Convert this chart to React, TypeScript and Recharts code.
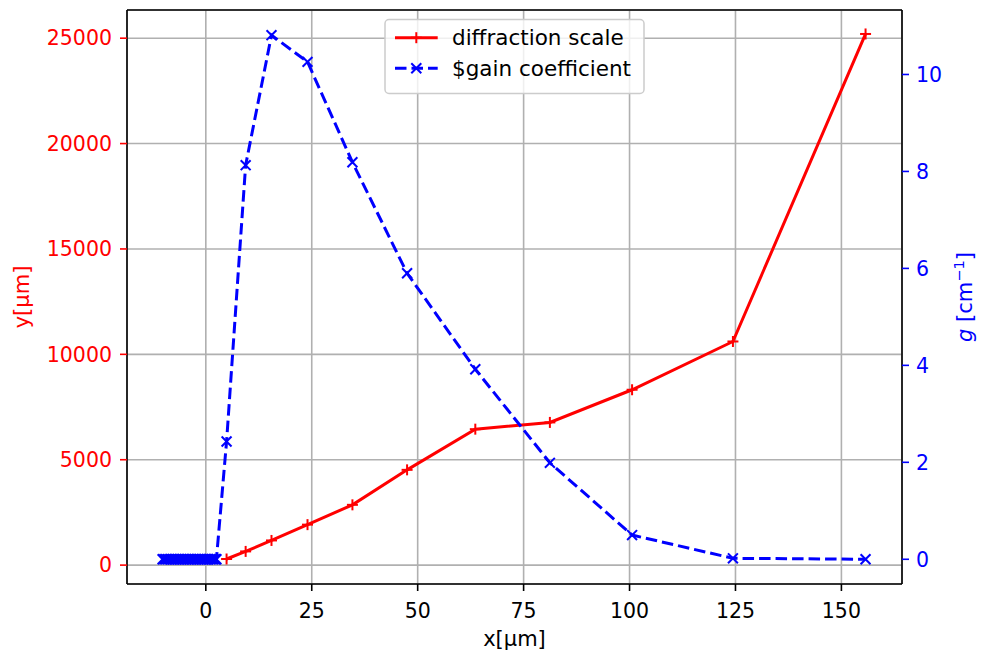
import React from 'react';
import { ComposedChart, Line, XAxis, YAxis, CartesianGrid, ReferenceLine } from 'recharts';

// ---- data ----
const positions = [4.9, 9.4, 15.5, 24.0, 34.6, 47.5, 63.6, 81.2, 100.6, 124.4, 155.7];
const diffractionScale = [290, 650, 1170, 1920, 2860, 4520, 6450, 6770, 8320, 10610, 25200];
const gainAtPositions = [2.43, 8.13, 10.81, 10.26, 8.19, 5.9, 3.92, 1.99, 0.5, 0.02, 0.0];
const clusterPositions = [
  -10.2, -9.8, -9.4, -9.0, -8.6, -8.2, -7.8, -7.4, -7.0, -6.6, -6.2, -5.8, -5.4, -5.0, -4.6, -4.2, -3.8,
  -3.4, -3.0, -2.6, -2.2, -1.8, -1.4, -1.0, -0.6, -0.2, 0.2, 0.6, 1.0, 1.4, 1.8, 2.2, 2.5,
];
const clusterGain = [
  0, 0, 0, 0, 0, 0, 0, 0, 0, 0, 0, 0, 0, 0, 0, 0, 0,
  0, 0, 0, 0, 0, 0, 0, 0, 0, 0, 0, 0, 0, 0, 0, 0,
];
const xTicks = [0, 25, 50, 75, 100, 125, 150];
const yLeftTicks = [0, 5000, 10000, 15000, 20000, 25000];
const yRightTicks = [0, 2, 4, 6, 8, 10];
const seriesNames = ['diffraction scale', '$gain coefficient'];

const rows = [
  ...clusterPositions.map((x, i) => ({ x, gain: clusterGain[i] })),
  ...positions.map((x, i) => ({ x, scale: diffractionScale[i], gain: gainAtPositions[i] })),
];

const FONT = "'DejaVu Sans', sans-serif";
const FS = 20.5;
const LFS = 21.5;
const RED = '#ff0000';
const BLUE = '#0000ff';
const X_DOMAIN: [number, number] = [-18.6, 164.3];
const YL_DOMAIN: [number, number] = [-896, 26337];
const YR_DOMAIN: [number, number] = [-0.51, 11.33];
const M = 5.5;

const PlusDot = (props: any) => {
  const { cx, cy, index } = props;
  if (cx == null || cy == null || isNaN(cy)) return <g key={`p${index}`} />;
  return (
    <g key={`p${index}`}>
      <line x1={cx - M} y1={cy} x2={cx + M} y2={cy} stroke={RED} strokeWidth={2} />
      <line x1={cx} y1={cy - M} x2={cx} y2={cy + M} stroke={RED} strokeWidth={2} />
    </g>
  );
};

const XDot = (props: any) => {
  const { cx, cy, index } = props;
  if (cx == null || cy == null || isNaN(cy)) return <g key={`x${index}`} />;
  const h = M * 0.9;
  return (
    <g key={`x${index}`}>
      <line x1={cx - h} y1={cy - h} x2={cx + h} y2={cy + h} stroke={BLUE} strokeWidth={2} />
      <line x1={cx - h} y1={cy + h} x2={cx + h} y2={cy - h} stroke={BLUE} strokeWidth={2} />
    </g>
  );
};

const LeftLabel = () => (
  <text x={29} y={297} transform="rotate(-90 29 297)" textAnchor="middle" fill={RED} fontSize={21} fontFamily={FONT}>
    y[μm]
  </text>
);

const RightLabel = () => (
  <text x={972} y={297} transform="rotate(-90 972 297)" textAnchor="middle" fill={BLUE} fontSize={21} fontFamily={FONT}>
    <tspan fontStyle="italic">g</tspan>
    <tspan> [cm</tspan>
    <tspan dy={-8} fontSize={14.5}>−1</tspan>
    <tspan dy={8}>]</tspan>
  </text>
);

const BottomLabel = () => (
  <text x={514.5} y={646} textAnchor="middle" fill="#000" fontSize={21} fontFamily={FONT}>
    x[μm]
  </text>
);

const LegendBox = () => (
  <svg width={985} height={658} style={{ position: 'absolute', left: 0, top: 0, pointerEvents: 'none' }}>
    <rect x={385} y={19.5} width={259} height={74} rx={4} fill="#ffffff" fillOpacity={0.8} stroke="#cccccc" strokeWidth={1.5} />
    <line x1={395} y1={37.7} x2={437.7} y2={37.7} stroke={RED} strokeWidth={3} />
    <line x1={416.3 - M} y1={37.7} x2={416.3 + M} y2={37.7} stroke={RED} strokeWidth={2} />
    <line x1={416.3} y1={37.7 - M} x2={416.3} y2={37.7 + M} stroke={RED} strokeWidth={2} />
    <text x={452} y={37.7} dominantBaseline="central" fontSize={LFS} fontFamily={FONT} fill="#000">{seriesNames[0]}</text>
    <line x1={395} y1={68.3} x2={437.7} y2={68.3} stroke={BLUE} strokeWidth={3} strokeDasharray="11.5 5" />
    <line x1={416.3 - 5} y1={68.3 - 5} x2={416.3 + 5} y2={68.3 + 5} stroke={BLUE} strokeWidth={2} />
    <line x1={416.3 - 5} y1={68.3 + 5} x2={416.3 + 5} y2={68.3 - 5} stroke={BLUE} strokeWidth={2} />
    <text x={452} y={68.3} dominantBaseline="central" fontSize={LFS} fontFamily={FONT} fill="#000">{seriesNames[1]}</text>
  </svg>
);

export default function App() {
  return (
    <div style={{ position: 'absolute', left: 0, top: 0, width: 985, height: 658, background: '#fff', fontFamily: FONT }}>
      <ComposedChart width={985} height={658} data={rows} margin={{ top: 10, right: 0, bottom: 0, left: 0 }}>
        <CartesianGrid yAxisId="left" stroke="#b0b0b0" strokeWidth={1.6} />
        <XAxis
          type="number"
          dataKey="x"
          domain={X_DOMAIN}
          allowDataOverflow
          ticks={xTicks}
          height={74}
          axisLine={{ stroke: '#000', strokeWidth: 1.6 }}
          tickLine={{ stroke: '#000', strokeWidth: 1.6 }}
          tickSize={7}
          tickMargin={12}
          tick={{ fill: '#000', fontSize: FS, fontFamily: FONT }}
          label={<BottomLabel />}
        />
        <YAxis
          yAxisId="left"
          orientation="left"
          type="number"
          domain={YL_DOMAIN}
          allowDataOverflow
          ticks={yLeftTicks}
          width={127}
          axisLine={{ stroke: '#000', strokeWidth: 1.6 }}
          tickLine={{ stroke: RED, strokeWidth: 1.6 }}
          tickSize={7}
          tickMargin={8}
          tick={{ fill: RED, fontSize: FS, fontFamily: FONT }}
          label={<LeftLabel />}
        />
        <YAxis
          yAxisId="right"
          orientation="right"
          type="number"
          domain={YR_DOMAIN}
          allowDataOverflow
          ticks={yRightTicks}
          width={83}
          axisLine={{ stroke: '#000', strokeWidth: 1.6 }}
          tickLine={{ stroke: BLUE, strokeWidth: 1.6 }}
          tickSize={7}
          tickMargin={7}
          tick={{ fill: BLUE, fontSize: FS, fontFamily: FONT }}
          label={<RightLabel />}
        />
        <ReferenceLine yAxisId="left" y={YL_DOMAIN[1]} stroke="#000" strokeWidth={1.6} ifOverflow="visible" />
        <Line
          yAxisId="left"
          type="linear"
          dataKey="scale"
          stroke={RED}
          strokeWidth={3}
          dot={PlusDot}
          activeDot={false}
          isAnimationActive={false}
          connectNulls
        />
        <Line
          yAxisId="right"
          type="linear"
          dataKey="gain"
          stroke={BLUE}
          strokeWidth={3}
          strokeDasharray="11.5 5"
          dot={XDot}
          activeDot={false}
          isAnimationActive={false}
        />
      </ComposedChart>
      <LegendBox />
    </div>
  );
}
